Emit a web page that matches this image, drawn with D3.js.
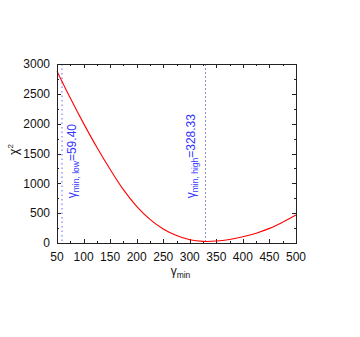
<!DOCTYPE html>
<html>
<head>
<meta charset="utf-8">
<script src="https://cdn.jsdelivr.net/npm/d3@7"></script>
<style>
    body { margin: 0; background: #fff; }
    text { font-family: "Liberation Sans", Arial, sans-serif; }
</style>
</head>
<body>
<svg></svg>
<script>
// chi^2 as a function of gamma_min
const gammaMin = [50, 75, 100, 125, 150, 175, 200, 225, 250, 275, 300, 325, 350, 375, 400, 425, 450, 475, 500];
const chiSq    = [2880, 2430, 2005, 1605, 1235, 895, 615, 395, 235, 125, 55, 27, 33, 60, 105, 165, 245, 350, 468];

const xTicks = [50, 100, 150, 200, 250, 300, 350, 400, 450, 500];
const yTicks = [0, 500, 1000, 1500, 2000, 2500, 3000];

// marked values
const markers = [
    { value: 59.40, sub: "min, low", text: "=59.40" },
    { value: 328.33, sub: "min, high", text: "=328.33" }
];

function drawChart() {
    const svgWidth = 360, svgHeight = 337;
    const margin = { top: 64, right: 64, bottom: 94, left: 57 };
    const width = svgWidth - margin.left - margin.right;
    const height = svgHeight - margin.top - margin.bottom;

    const svg = d3.select("svg")
        .attr("width", svgWidth)
        .attr("height", svgHeight);

    const g = svg.append("g")
        .attr("transform", `translate(${margin.left}, ${margin.top})`);

    const x = d3.scaleLinear().domain([50, 500]).range([0, width]);
    const y = d3.scaleLinear().domain([0, 3000]).range([height, 0]);

    const minorX = d3.range(75, 500, 50);
    const minorY = d3.range(250, 3000, 500);

    // ticks (inward, mirrored on top and right)
    const tickG = g.append("g").attr("stroke", "#222").attr("stroke-width", 1);
    function xTick(v, len) {
        const px = Math.round(x(v)) + 0.5;
        tickG.append("line").attr("x1", px).attr("x2", px).attr("y1", height).attr("y2", height - len);
        tickG.append("line").attr("x1", px).attr("x2", px).attr("y1", 0).attr("y2", len);
    }
    function yTick(v, len) {
        const py = Math.round(y(v)) + 0.5;
        tickG.append("line").attr("x1", 0).attr("x2", len).attr("y1", py).attr("y2", py);
        tickG.append("line").attr("x1", width).attr("x2", width - len).attr("y1", py).attr("y2", py);
    }
    xTicks.forEach(v => xTick(v, 4));
    minorX.forEach(v => xTick(v, 2));
    yTicks.forEach(v => yTick(v, 4));
    minorY.forEach(v => yTick(v, 2));

    // tick labels
    g.append("g").selectAll("text")
        .data(xTicks).enter().append("text")
        .attr("x", d => x(d))
        .attr("y", height + 18)
        .attr("text-anchor", "middle")
        .attr("font-size", "12px")
        .attr("fill", "#111")
        .text(d => d);

    g.append("g").selectAll("text")
        .data(yTicks).enter().append("text")
        .attr("x", -7)
        .attr("y", d => y(d))
        .attr("dy", "0.35em")
        .attr("text-anchor", "end")
        .attr("font-size", "12px")
        .attr("fill", "#111")
        .text(d => d);

    // marker lines
    g.append("line")
        .attr("x1", x(markers[0].value)).attr("x2", x(markers[0].value))
        .attr("y1", 0).attr("y2", height)
        .attr("stroke", "#a0a0ff")
        .attr("stroke-width", 1.6)
        .attr("stroke-dasharray", "1.5,3");

    g.append("line")
        .attr("x1", Math.round(x(markers[1].value)) + 0.5).attr("x2", Math.round(x(markers[1].value)) + 0.5)
        .attr("y1", 0).attr("y2", height)
        .attr("stroke", "#7070d0")
        .attr("stroke-width", 0.8)
        .attr("stroke-dasharray", "2,2");

    // curve
    const line = d3.line()
        .curve(d3.curveCatmullRom)
        .x((d, i) => x(gammaMin[i]))
        .y(d => y(d));

    g.append("path")
        .datum(chiSq)
        .attr("fill", "none")
        .attr("stroke", "#ff0000")
        .attr("stroke-width", 1.1)
        .attr("d", line);

    // frame
    g.append("rect")
        .attr("x", 0.5).attr("y", 0.5)
        .attr("width", width).attr("height", height)
        .attr("fill", "none")
        .attr("stroke", "#222")
        .attr("stroke-width", 1);

    // marker labels
    const labelOffsets = [14, -10];
    markers.forEach((m, i) => {
        const t = g.append("text")
            .attr("transform", `translate(${x(m.value) + labelOffsets[i]}, ${y(750)}) rotate(-90)`)
            .attr("font-size", "12px")
            .attr("fill", "#3535ff");
        t.append("tspan").text("\u03b3");
        t.append("tspan").attr("font-size", "8.5px").attr("dy", 3).text(m.sub);
        t.append("tspan").attr("dy", -3).text(m.text);
    });

    // axis labels
    const yl = svg.append("text")
        .attr("transform", `translate(18, ${margin.top + height / 2 - 4}) rotate(-90)`)
        .attr("text-anchor", "middle")
        .attr("font-size", "12px")
        .attr("fill", "#111");
    yl.append("tspan").text("\u03c7");
    yl.append("tspan").attr("font-size", "8px").attr("dy", -5).text("2");

    const xl = svg.append("text")
        .attr("x", margin.left + width / 2 + 4)
        .attr("y", margin.top + height + 32)
        .attr("text-anchor", "middle")
        .attr("font-size", "12px")
        .attr("fill", "#111");
    xl.append("tspan").text("\u03b3");
    xl.append("tspan").attr("font-size", "8.5px").attr("dy", 3).text("min");
}

drawChart();
</script>
</body>
</html>
